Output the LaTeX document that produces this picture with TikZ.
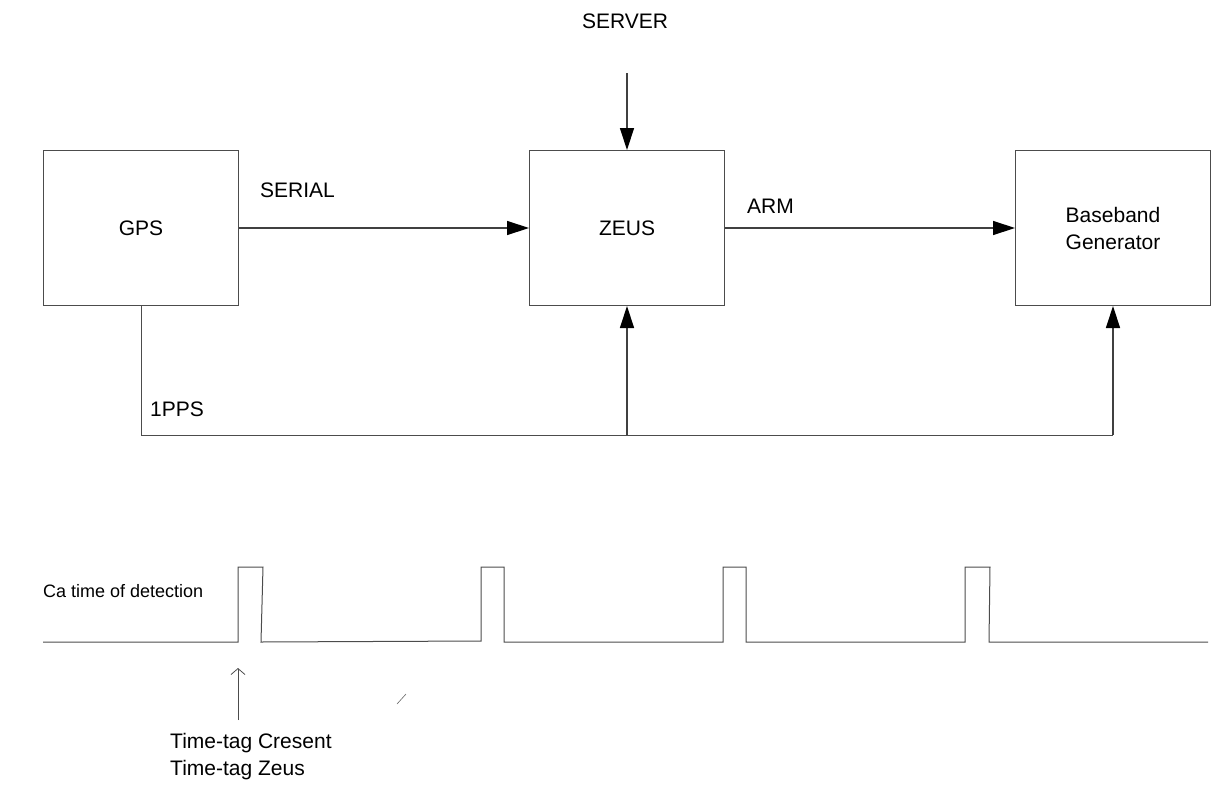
\documentclass[tikz,border=0pt]{standalone}
\usepackage{fontspec}
\setmainfont{Liberation Sans}
\usetikzlibrary{positioning,arrows.meta}

\begin{document}
\begin{tikzpicture}[
  x=1pt, y=-1pt,
  font=\fontsize{21}{27}\selectfont,
  blk/.style={draw=black!70, line width=1pt, minimum width=195pt, minimum height=155pt, align=center, inner sep=0pt},
  lbl/.style={anchor=base west, inner sep=0pt},
  arr/.style={-{Triangle[length=22pt,width=14pt,color=black]}, line width=1.3pt, draw=black!75},
  wire/.style={line width=1pt, draw=black!70},
  tarr/.style={-{Straight Barb[length=6pt,width=14pt]}, line width=0.8pt, draw=black!70}
]
\useasboundingbox (0,0) rectangle (1219,785);

\node[blk] (gps) at (141,228) {GPS};
\node[blk, right=290pt of gps] (zeus) {ZEUS};
\node[blk, right=290pt of zeus] (bbg) {Baseband\\Generator};

\node[anchor=base, inner sep=0pt] (server) at (625,28) {SERVER};
\coordinate (srvin) at (zeus.north |- 0,73);
\node[lbl] (serial) at (260,197) {SERIAL};
\node[lbl] (armlbl) at (747,213) {ARM};
\node[lbl] (pps) at (150,416) {1PPS};

\draw[arr] (srvin) -- (zeus.north);
\draw[arr] (gps) -- (zeus);
\draw[arr] (zeus) -- (bbg);

% 1PPS bus
\coordinate (busR) at (bbg.south |- 0,435);
\coordinate (busZ) at (zeus.south |- 0,435);
\draw[wire] (gps.south) |- (busR);
\draw[arr] (busR) -- (bbg.south);
\draw[arr] (busZ) -- (zeus.south);

% detection pulses
\node[lbl, font=\fontsize{18}{22}\selectfont] (detect) at (43,597) {Ca time of detection};
\draw[wire] (43,642) -- (238,642) -- (238,567) -- (263,567) -- (261,642)
  -- (481,641) -- (481,567) -- (504,567) -- (504,642)
  -- (723,642) -- (723,567) -- (746,567) -- (746,642)
  -- (965,642) -- (965,567) -- (990,567) -- (989,642) -- (1208,642);

\node[anchor=north west, align=left, inner sep=0pt] (ttag) at (170,733) {Time-tag Cresent\\Time-tag Zeus};
\coordinate (tagfoot) at (238,720);
\coordinate (tagtip) at (238,668);
\draw[tarr] (tagfoot) -- (tagtip);
\draw[line width=0.6pt, draw=black!60] (397,704) -- (406,694);

\end{tikzpicture}
\end{document}
